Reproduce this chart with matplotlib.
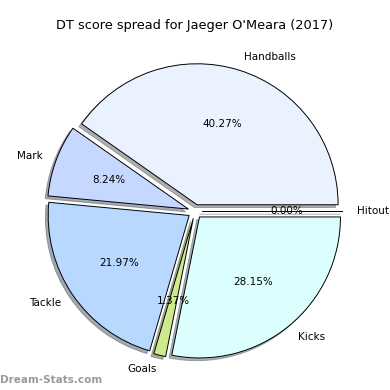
import matplotlib
matplotlib.use("Agg")
import matplotlib.pyplot as plt

# DT score spread data (points per category)
labels = ["Handballs", "Mark", "Tackle", "Goals", "Kicks", "Hitout"]
scores = [352, 72, 192, 12, 246, 0]
colors = ["#eaf1ff", "#c6d8ff", "#b8d8ff", "#cdeb8c", "#dbffff", "#e0e0ff"]
explode = [0.05, 0.05, 0.05, 0.05, 0.05, 0.05]

fig = plt.figure(figsize=(3.9, 3.9), dpi=100)

# axes placed so the pie sits like in the original
half = 175
ax = fig.add_axes([(195 - half) / 390, (178.5 - half) / 390, 2 * half / 390, 2 * half / 390])

wedges, texts, autotexts = ax.pie(
    scores,
    labels=labels,
    colors=colors,
    explode=explode,
    autopct="%1.2f%%",
    shadow={"ox": -0.014, "oy": -0.014, "shade": 0.6},
    startangle=0,
    wedgeprops={"edgecolor": "black", "linewidth": 0.7},
    textprops={"fontsize": 7.5},
)
lim = half / 141
ax.set_xlim(-lim, lim)
ax.set_ylim(-lim, lim)
ax.set_aspect("equal")

fig.text(0.5, 1 - 25 / 390, "DT score spread for Jaeger O'Meara (2017)",
         ha="center", va="center", fontsize=9.3)
fig.text(0.0, 1 - 380 / 390, "Dream-Stats.com", ha="left", va="center",
         fontsize=7.5, fontweight="semibold", color="#9a9a9a")

fig.savefig("out.png", dpi=100)
